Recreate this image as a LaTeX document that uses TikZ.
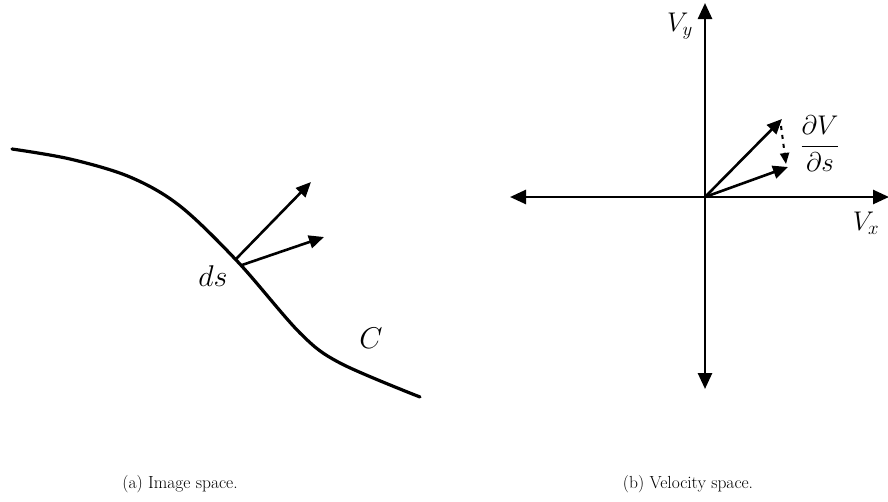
\RequirePackage{fix-cm}
\documentclass[tikz,border=0pt]{standalone}
\usetikzlibrary{arrows.meta}
\begin{document}
\begin{tikzpicture}[x=1pt,y=-1pt,
  curveline/.style={line width=3.2pt, line cap=round},
  vec/.style={line width=2.6pt, -{Triangle[length=15pt,width=13pt]}},
  axis/.style={line width=2.6pt, {Triangle[length=16pt,width=14pt]}-{Triangle[length=16pt,width=14pt]}},
  dvec/.style={line width=2pt, dash pattern=on 4pt off 5pt, -{Triangle[length=11pt,width=9pt]}},
  mlabel/.style={font=\fontsize{27}{31}\selectfont, inner sep=0pt},
  blabel/.style={font=\fontsize{30}{34}\selectfont, inner sep=0pt},
  caption/.style={font=\fontsize{17.5}{21}\selectfont, inner sep=0pt}]
\useasboundingbox (0,0) rectangle (888,501);
% (a) image space
\draw[curveline] plot[smooth, tension=0.55] coordinates
  {(12,149) (70,159) (130,177) (180,206) (238,262) (300,333) (340,363) (420,397)};
\coordinate (p) at (236,259);
\coordinate (p2) at (242,265);
\coordinate (t1) at (311,182);
\coordinate (t2) at (324,237);
\draw[vec] (p) -- (t1);
\draw[vec] (p2) -- (t2);
\node[blabel] (ds) at (213,276) {$ds$};
\node[blabel] (C) at (371,338) {$C$};
\node[caption] (capa) at (180,484) {(a) Image space.};
% (b) velocity space
\coordinate (O) at (705,197);
\coordinate (L) at (510,197);
\coordinate (R) at (889,197);
\coordinate (T) at (705,3);
\coordinate (B) at (705,389);
\draw[axis] (L) -- (R);
\draw[axis] (B) -- (T);
\coordinate (v1) at (782,119);
\coordinate (v2) at (788,167);
\coordinate (d1) at (781,126);
\coordinate (d2) at (786,164);
\draw[vec] (O) -- (v1);
\draw[vec] (O) -- (v2);
\draw[dvec] (d1) -- (d2);
\node[mlabel] (Vy) at (680,26) {$V_y$};
\node[mlabel] (Vx) at (866,223) {$V_x$};
\node[mlabel] (dVds) at (820,144) {$\displaystyle\frac{\partial V}{\partial s}$};
\node[caption] (capb) at (688,484) {(b) Velocity space.};
\end{tikzpicture}
\end{document}
